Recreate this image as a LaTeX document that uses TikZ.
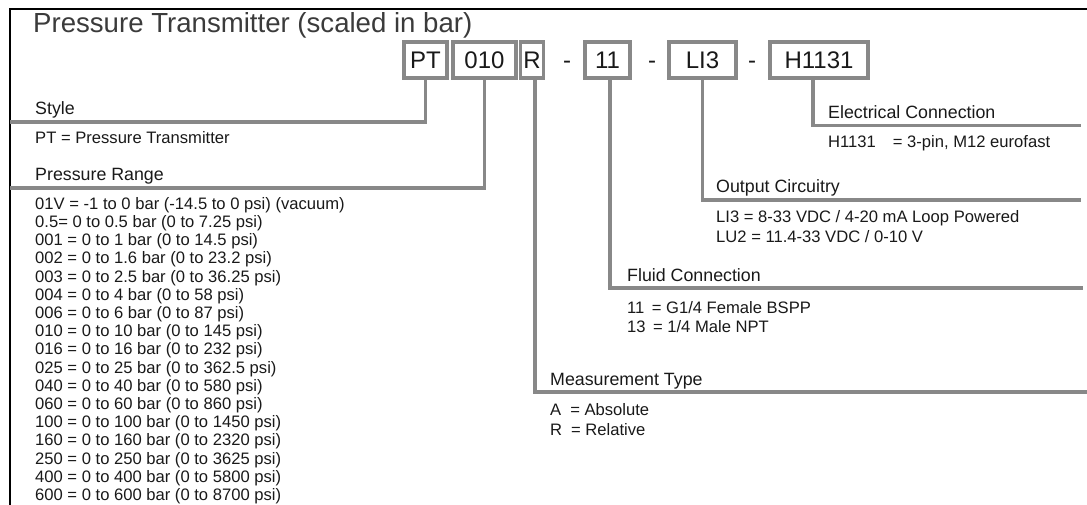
\documentclass[tikz,border=0pt]{standalone}
\usepackage{fontspec}
\setmainfont{Liberation Sans}
\usetikzlibrary{positioning}
\definecolor{barcolor}{RGB}{136,136,136}
\definecolor{inkcolor}{RGB}{25,25,25}
\tikzset{
  codebox/.style={draw=barcolor, line width=3.8pt, minimum height=36pt, inner sep=0pt,
    font=\fontsize{24}{24}\selectfont, text=inkcolor},
  dashtxt/.style={inner sep=0pt, font=\fontsize{24}{24}\selectfont, text=inkcolor},
  barln/.style={draw=barcolor, line width=3.8pt},
  headtxt/.style={anchor=base west, inner sep=0pt, font=\fontsize{17.8}{19}\selectfont, text=inkcolor},
  % multi-line nodes sit on the baseline of their last line
  bodytxt/.style={anchor=base west, inner sep=0pt, align=left, font=\fontsize{16.6}{19.5}\selectfont, text=inkcolor},
  listtxt/.style={bodytxt, font=\fontsize{16.6}{18.2}\selectfont},
  frameln/.style={line width=2.4pt, black},
}

\begin{document}
\begin{tikzpicture}[x=1pt, y=-1pt]
    \useasboundingbox (0,0) rectangle (1087,505);
    % --- frame and title ---
    \draw[frameln] (10,505) -- (10,9) -- (1087,9);
    \node[headtxt, font=\fontsize{27.6}{28}\selectfont, text=inkcolor!85] (title) at (33,33)
      {Pressure Transmitter (scaled in bar)};
    % --- code boxes ---
    \node[codebox, minimum width=43pt] (ptbox) at (425.5,60) {PT};
    \node[codebox, minimum width=63.4pt] (rangebox) at (484.5,60) {010};
    \node[codebox, minimum width=23pt] (typebox) at (532,60) {R};
    \node[dashtxt] (dasha) at (567,65) {-};
    \node[codebox, minimum width=45.4pt] (fluidbox) at (607.5,60) {11};
    \node[dashtxt] (dashb) at (652,65) {-};
    \node[codebox, minimum width=67.4pt] (outbox) at (702.5,60) {LI3};
    \node[dashtxt] (dashc) at (752,65) {-};
    \node[codebox, minimum width=98.4pt] (elecbox) at (819,60) {H1131};
    % --- bar ends ---
    \coordinate (styleend) at (10,122);
    \coordinate (rangeend) at (10,188);
    \coordinate (typeend) at (1087,392);
    \coordinate (fluidend) at (1083,288);
    \coordinate (outend) at (1081,200);
    \coordinate (elecend) at (1081,125.5);
    \draw[barln] (ptbox.south) |- (styleend);
    \draw[barln] (rangebox.south) |- (rangeend);
    \draw[barln] ([xshift=3pt]typebox.south) |- (typeend);
    \draw[barln] ([xshift=2.5pt]fluidbox.south) |- (fluidend);
    \draw[barln] (outbox.south) |- (outend);
    \draw[barln] ([xshift=-6pt]elecbox.south) |- (elecend);
    % --- style ---
    \node[headtxt] (stylehead) at (35,115) {Style};
    \node[bodytxt] (stylelist) at (35,144) {PT = Pressure Transmitter};
    % --- pressure range ---
    \node[headtxt] (rangehead) at (35,181) {Pressure Range};
    \node[listtxt] (rangelist) at (35,500.5) {01V = -1 to 0 bar (-14.5 to 0 psi) (vacuum)\\
      0.5= 0 to 0.5 bar (0 to 7.25 psi)\\
      001 = 0 to 1 bar (0 to 14.5 psi)\\
      002 = 0 to 1.6 bar (0 to 23.2 psi)\\
      003 = 0 to 2.5 bar (0 to 36.25 psi)\\
      004 = 0 to 4 bar (0 to 58 psi)\\
      006 = 0 to 6 bar (0 to 87 psi)\\
      010 = 0 to 10 bar (0 to 145 psi)\\
      016 = 0 to 16 bar (0 to 232 psi)\\
      025 = 0 to 25 bar (0 to 362.5 psi)\\
      040 = 0 to 40 bar (0 to 580 psi)\\
      060 = 0 to 60 bar (0 to 860 psi)\\
      100 = 0 to 100 bar (0 to 1450 psi)\\
      160 = 0 to 160 bar (0 to 2320 psi)\\
      250 = 0 to 250 bar (0 to 3625 psi)\\
      400 = 0 to 400 bar (0 to 5800 psi)\\
      600 = 0 to 600 bar (0 to 8700 psi)};
    % --- electrical connection ---
    \node[headtxt] (elechead) at (828,118.5) {Electrical Connection};
    \node[bodytxt] (eleclist) at (828,148) {H1131\hspace{17pt}= 3-pin, M12 eurofast};
    % --- output circuitry ---
    \node[headtxt] (outhead) at (716,193) {Output Circuitry};
    \node[bodytxt] (outlist) at (716,242.5) {LI3 = 8-33 VDC / 4-20 mA Loop Powered\\
      LU2 = 11.4-33 VDC / 0-10 V};
    % --- fluid connection ---
    \node[headtxt] (fluidhead) at (627,281) {Fluid Connection};
    \node[bodytxt] (fluidlist) at (627,332.5) {11 \,= G1/4 Female BSPP\\
      13 \,= 1/4 Male NPT};
    % --- measurement type ---
    \node[headtxt] (typehead) at (550,385) {Measurement Type};
    \node[bodytxt] (typelist) at (550,435) {A\hspace{9pt}= Absolute\\
      R\hspace{9pt}= Relative};
  \end{tikzpicture}
\end{document}
